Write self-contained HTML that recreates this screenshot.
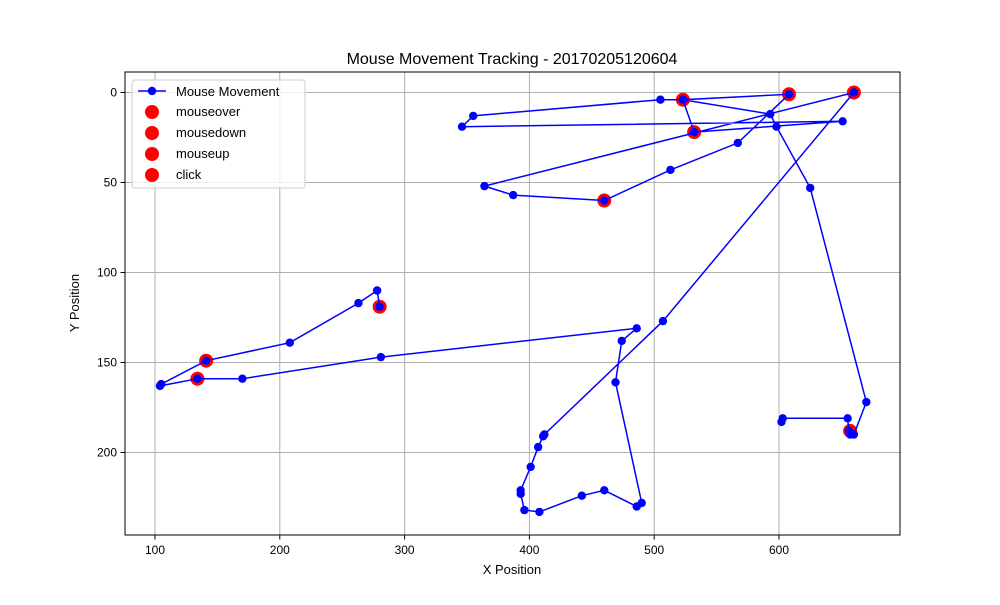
<!DOCTYPE html>
<html><head><meta charset="utf-8"><style>
body{margin:0;background:#fff;font-family:"Liberation Sans","DejaVu Sans",sans-serif}
</style></head><body>
<svg width="1000" height="600" xmlns="http://www.w3.org/2000/svg" font-family="Liberation Sans, DejaVu Sans, sans-serif">
<rect width="1000" height="600" fill="#fff"/>
<g id="grid"></g>
<g id="marks"></g>
<rect x="125" y="72" width="775" height="463" fill="none" stroke="#000" stroke-width="1"/>
<g id="ticks"></g>
<text x="512" y="64" text-anchor="middle" font-size="16">Mouse Movement Tracking - 20170205120604</text>
<text x="512" y="574" text-anchor="middle" font-size="13">X Position</text>
<text x="79" y="303" text-anchor="middle" font-size="13" transform="rotate(-90 79 303)">Y Position</text>
<g>
<rect x="132" y="80" width="173" height="108" rx="3" fill="#fff" fill-opacity="0.8" stroke="#ccc"/>
<g><line x1="138" y1="91" x2="166" y2="91" stroke="#0000ff" stroke-width="1.5"/><circle cx="152" cy="91" r="4.2" fill="#0000ff"/><text x="176" y="96" font-size="13">Mouse Movement</text></g>
<g><circle cx="152" cy="112" r="7" fill="#ff0000"/><text x="176" y="116" font-size="13">mouseover</text></g>
<g><circle cx="152" cy="133" r="7" fill="#ff0000"/><text x="176" y="137" font-size="13">mousedown</text></g>
<g><circle cx="152" cy="154" r="7" fill="#ff0000"/><text x="176" y="158" font-size="13">mouseup</text></g>
<g><circle cx="152" cy="175" r="7" fill="#ff0000"/><text x="176" y="179" font-size="13">click</text></g>
</g>
</svg>
<script>
const pathX=[280,278,263,208,141,105,104,134,170,281,486,474,469,490,486,460,442,408,396,393,393,401,407,411,412,507,660,364,387,460,513,567,608,523,532,651,346,355,505,523,593,598,625,670,660,657,656,655,603,602];
const pathY=[119,110,117,139,149,162,163,159,159,147,131,138,161,228,230,221,224,233,232,223,221,208,197,191,190,127,0,52,57,60,43,28,1,4,22,16,19,13,4,4,12,19,53,172,190,190,188,181,181,183];
const eventX=[280,141,134,460,523,532,608,660,657];
const eventY=[119,149,159,60,4,22,1,0,188];
const xTicks=[100,200,300,400,500,600];
const yTicks=[0,50,100,150,200];
const NS='http://www.w3.org/2000/svg';
function sx(v){return 155+(v-100)*1.248;}
function sy(v){return 92.5+v*1.8;}
function mk(t,a,p){const e=document.createElementNS(NS,t);for(const k in a)e.setAttribute(k,a[k]);p.appendChild(e);return e;}
const grid=document.getElementById('grid'),ticks=document.getElementById('ticks'),marks=document.getElementById('marks');
xTicks.forEach(v=>{const x=sx(v);
 const g=mk('line',{x1:x,x2:x,y1:72,y2:535,stroke:'#b0b0b0','stroke-width':1},grid);
 
 
 const t=mk('line',{x1:x,x2:x,y1:535,y2:539.5,stroke:'#000'},ticks);
 
 
 const l=mk('text',{x:x,y:554,'text-anchor':'middle','font-size':12},ticks);l.textContent=v;
 
 
});
yTicks.forEach(v=>{const y=sy(v);
 const g=mk('line',{x1:125,x2:900,y1:y,y2:y,stroke:'#b0b0b0','stroke-width':1},grid);
 
 
 const t=mk('line',{x1:120.5,x2:125,y1:y,y2:y,stroke:'#000'},ticks);
 
 
 const l=mk('text',{x:117,y:y+4,'text-anchor':'end','font-size':12},ticks);l.textContent=v;
 
 
});
eventX.forEach((v,i)=>{const c=mk('circle',{cx:sx(v),cy:sy(eventY[i]),r:7,fill:'#ff0000'},marks);
 
 
});
const pl=mk('polyline',{points:pathX.map((v,i)=>sx(v)+','+sy(pathY[i])).join(' '),fill:'none',stroke:'#0000ff','stroke-width':1.5},marks);


pathX.forEach((v,i)=>{const c=mk('circle',{cx:sx(v),cy:sy(pathY[i]),r:4.2,fill:'#0000ff'},marks);
 
 
});
</script>
</body></html>
